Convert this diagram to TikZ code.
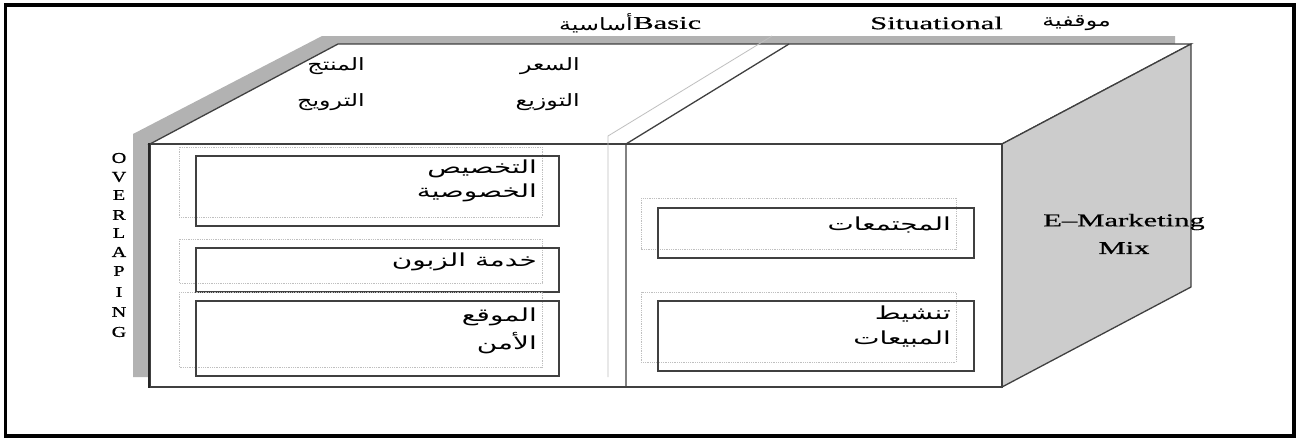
\documentclass[tikz,border=0pt]{standalone}
\usepackage{fontspec}
\setmainfont{Liberation Serif}
\newfontfamily\arab[Script=Arabic,FakeStretch=1.55]{DejaVu Sans}
\newfontfamily\arabt[Script=Arabic,FakeStretch=1.4]{DejaVu Sans}
\newfontfamily\lat[FakeStretch=1.7,FakeBold=0.6]{Liberation Serif}
\newfontfamily\latv[FakeStretch=1.35,FakeBold=0.8]{Liberation Serif}
\TeXXeTstate=1
\begin{document}
\begin{tikzpicture}[x=1pt,y=-1pt,
  ar/.style={font=\arab\fontsize{18}{20}\selectfont, inner sep=0pt, anchor=east},
  art/.style={font=\arabt\fontsize{17}{19}\selectfont, inner sep=0pt, anchor=east},
  en/.style={font=\lat\fontsize{18}{20}\selectfont, inner sep=0pt},
  vl/.style={font=\latv\fontsize{15}{17}\selectfont, inner sep=0pt},
  edge/.style={draw=black!75, line width=1.3pt},
  darkbox/.style={draw=black!75, line width=1.5pt},
  lightbox/.style={draw=black!25, line width=0.8pt, densely dotted},
  lightline/.style={draw=black!25, line width=0.8pt}]
\useasboundingbox (0,0) rectangle (1300,439);
% outer frame
\draw[line width=3.5pt, black] (5.5,5) rectangle (1294,436);
% gray back band
\fill[black!30] (133,377) -- (133,134) -- (322,36) -- (1175,36) -- (1175,44)
  -- (338,44) -- (150,144) -- (150,377) -- cycle;
% top face
\draw[edge, fill=white] (150,144) -- (338,44) -- (1191,44) -- (1002,144) -- cycle;
% side face
\draw[edge, fill=black!20] (1002,144) -- (1191,44) -- (1191,287) -- (1002,387) -- cycle;
% front face
\draw[edge, fill=white] (150,144) rectangle (1002,387);
\draw[line width=2.2pt, black!85] (149,143) -- (149,388);
% dividers
\draw[lightline] (608,377) -- (608,136) -- (772,36);
\draw[edge] (626,387) -- (626,144) -- (789,44);
% left boxes
\draw[lightbox] (179,147) rectangle (542,217);
\draw[darkbox] (196,156) rectangle (559,226);
\draw[lightbox] (179,239) rectangle (542,283);
\draw[darkbox] (196,248) rectangle (559,292);
\draw[lightbox] (179,292) rectangle (542,367);
\draw[darkbox] (196,301) rectangle (559,376);
% right boxes
\draw[lightbox] (641,198) rectangle (956,249);
\draw[darkbox] (658,208) rectangle (974,258);
\draw[lightbox] (641,292) rectangle (956,362);
\draw[darkbox] (658,301) rectangle (974,371);
% top labels
\node[art] (asas) at (633,23) {\beginR أساسية\endR};
\node[en, anchor=west] (basic) at (633,23) {Basic};
\node[en, anchor=west] (sit) at (870,23) {Situational};
\node[art] (mawq) at (1111,23) {\beginR موقفية\endR};
% top face labels
\node[art] (muntaj) at (365,66) {\beginR المنتج\endR};
\node[art] (tarwij) at (365,102) {\beginR الترويج\endR};
\node[art] (sier) at (580,66) {\beginR السعر\endR};
\node[art] (tawzi) at (580,102) {\beginR التوزيع\endR};
% left box texts
\node[ar] (takh) at (537,169) {\beginR التخصيص\endR};
\node[ar] (khus) at (537,193) {\beginR الخصوصية\endR};
\node[ar] (khid) at (537,262) {\beginR خدمة الزبون\endR};
\node[ar] (mawqi) at (537,317) {\beginR الموقع\endR};
\node[ar] (amn) at (537,343) {\beginR الأمن\endR};
% right box texts
\node[ar] (mujt) at (951,225) {\beginR المجتمعات\endR};
\node[ar] (tansh) at (951,314) {\beginR تنشيط\endR};
\node[ar] (mabi) at (951,339) {\beginR المبيعات\endR};
% side label
\node[en] (emk) at (1124,222) {E–Marketing};
\node[en] (mix) at (1124,248) {Mix};
% vertical OVERLAPING
\node[vl] (l1) at (119,158) {O};
\node[vl] (l2) at (119,177) {V};
\node[vl] (l3) at (119,195) {E};
\node[vl] (l4) at (119,215) {R};
\node[vl] (l5) at (119,233) {L};
\node[vl] (l6) at (119,252) {A};
\node[vl] (l7) at (119,271) {P};
\node[vl] (l8) at (119,292) {I};
\node[vl] (l9) at (119,312) {N};
\node[vl] (l10) at (119,332) {G};
\end{tikzpicture}
\end{document}
